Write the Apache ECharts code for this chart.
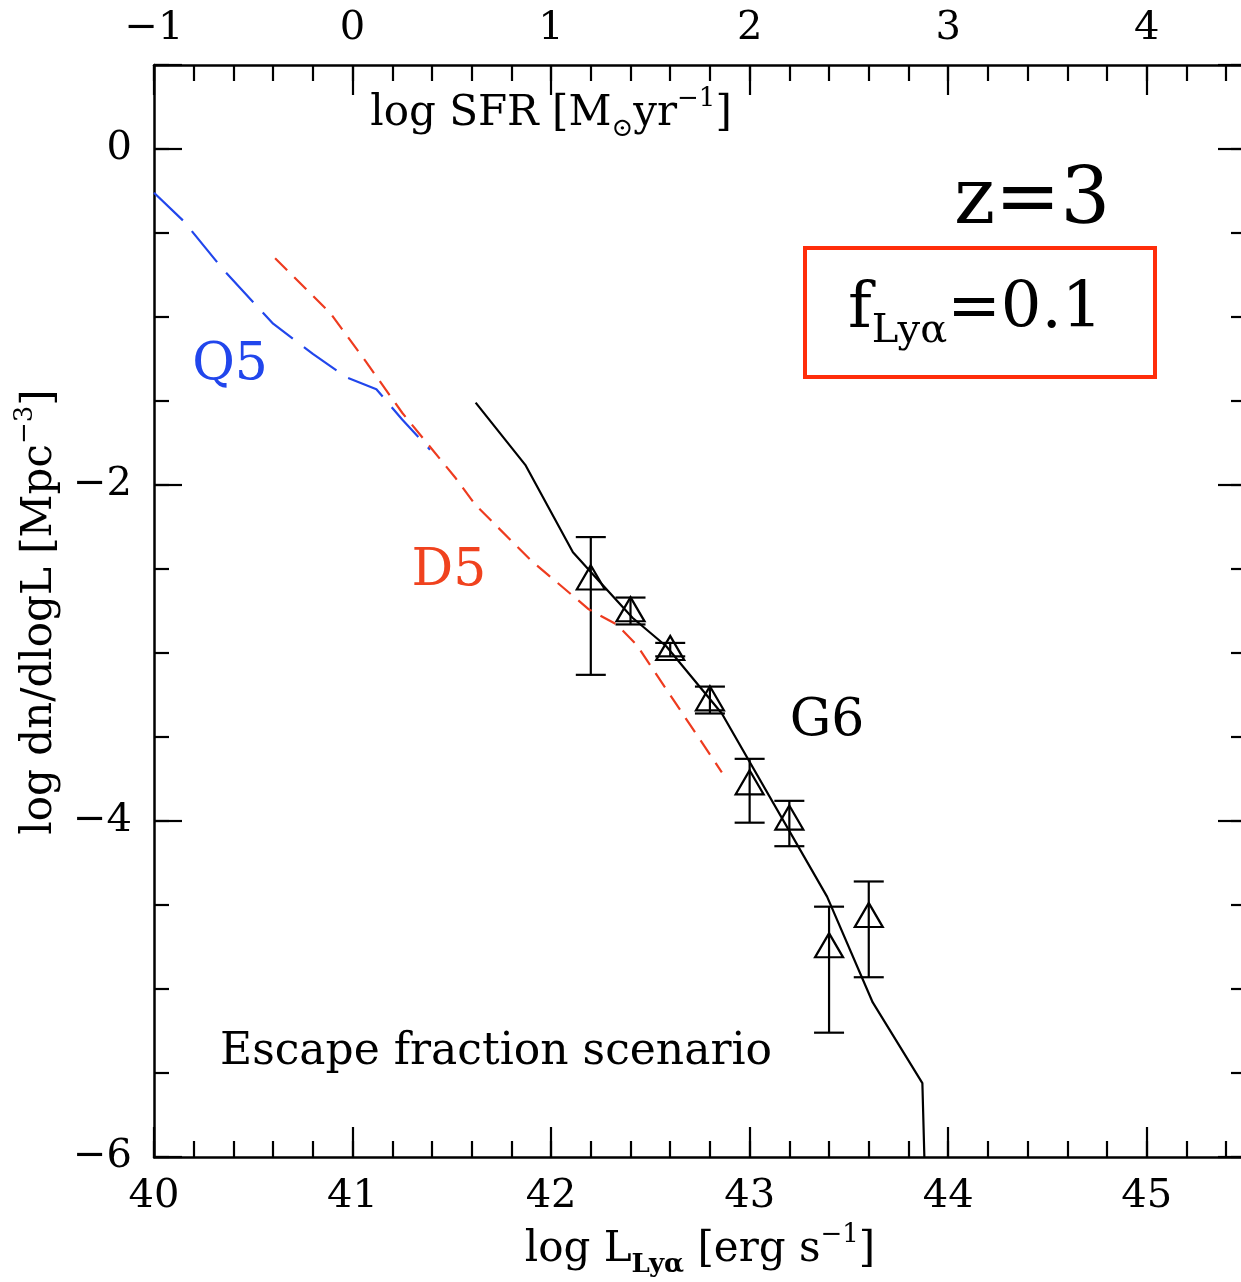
<!DOCTYPE html>
<html><head><meta charset="utf-8">
<script src="https://cdn.jsdelivr.net/npm/echarts@6/dist/echarts.min.js"></script>
<style>html,body{margin:0;padding:0;background:#fff}#c{width:1241px;height:1282px}</style>
</head><body><div id="c"></div>
<script>
// ---- data ----
const q5X = [40.0, 40.15, 40.35, 40.6, 40.8, 40.97, 41.12, 41.25, 41.39];
const q5Y = [-0.26, -0.43, -0.72, -1.04, -1.22, -1.36, -1.43, -1.61, -1.79];

const d5X = [40.61, 40.89, 41.07, 41.25, 41.52, 41.62, 41.90, 42.19, 42.33, 42.43, 42.86];
const d5Y = [-0.65, -0.98, -1.27, -1.57, -1.96, -2.12, -2.45, -2.74, -2.83, -2.95, -3.71];

const g6X = [41.62, 41.87, 42.11, 42.24, 42.41, 42.58, 42.86, 43.39, 43.62, 43.87, 43.88];
const g6Y = [-1.51, -1.88, -2.40, -2.57, -2.79, -2.96, -3.36, -4.45, -5.08, -5.56, -6.0];

const obsX  = [42.2, 42.4, 42.6, 42.8, 43.0, 43.2, 43.4, 43.6];
const obsY  = [-2.55, -2.74, -2.97, -3.27, -3.77, -3.98, -4.74, -4.56];
const obsHi = [-2.31, -2.67, -2.94, -3.20, -3.63, -3.88, -4.51, -4.36];
const obsLo = [-3.13, -2.83, -3.02, -3.36, -4.01, -4.15, -5.26, -4.93];

const lumTicks = [40, 41, 42, 43, 44, 45];
const sfrTicks = [-1, 0, 1, 2, 3, 4];
const yTicks = [-6, -4, -2, 0];

// ---- styles ----
const FONT = 'DejaVu Serif';
const BLUE = '#2146ec';
const RED = '#ee3b1f';
const BOX = '#ff2d0a';
const fmtNum = v => (v < 0 ? '\u2212' + Math.abs(v) : String(v));

function mkAxis(pos, min, max, interval, len, labels, ticksList, margin, showLine) {
  return {
    type: 'value', position: pos, min: min, max: max, interval: interval,
    axisLine: { show: showLine, onZero: false, lineStyle: { color: '#000', width: 2.5 } },
    axisTick: { show: true, inside: true, length: len, lineStyle: { color: '#000', width: 2.2 } },
    axisLabel: {
      show: labels, margin: margin, fontSize: 40, fontFamily: FONT, color: '#000',
      formatter: v => (ticksList && ticksList.some(t => Math.abs(t - v) < 1e-6)) ? fmtNum(Math.round(v)) : ''
    },
    splitLine: { show: false }, minorTick: { show: false }
  };
}

const chart = echarts.init(document.getElementById('c'), null, { renderer: 'canvas' });
const option = {
  animation: false,
  backgroundColor: '#fff',
  grid: { left: 154, top: 65, right: -5, bottom: 125, containLabel: false, outerBoundsMode: 'none' },
  xAxis: [
    mkAxis('bottom', 40, 45.5, 1, 30, true, lumTicks, 20, true),
    mkAxis('bottom', 40, 45.5, 0.2, 16, false, null, 0, false),
    mkAxis('top', -1, 4.5, 1, 30, true, sfrTicks, 16, true),
    mkAxis('top', -1, 4.5, 0.2, 16, false, null, 0, false)
  ],
  yAxis: [
    mkAxis('left', -6, 0.5, 2, 28, true, yTicks, 22, true),
    mkAxis('left', -6, 0.5, 0.5, 15, false, null, 0, false),
    mkAxis('right', -6, 0.5, 2, 28, false, null, 0, true),
    mkAxis('right', -6, 0.5, 0.5, 15, false, null, 0, false)
  ],
  series: [
    { type: 'line', name: 'Q5', xAxisIndex: 0, yAxisIndex: 0, data: q5X.map((x, i) => [x, q5Y[i]]),
      showSymbol: false, symbol: 'none', lineStyle: { color: BLUE, width: 2.2, type: [40, 14] }, silent: true },
    { type: 'line', name: 'D5', xAxisIndex: 0, yAxisIndex: 0, data: d5X.map((x, i) => [x, d5Y[i]]),
      showSymbol: false, symbol: 'none', lineStyle: { color: RED, width: 2.2, type: [17, 10] }, silent: true },
    { type: 'line', name: 'G6', xAxisIndex: 0, yAxisIndex: 0, data: g6X.map((x, i) => [x, g6Y[i]]),
      showSymbol: false, symbol: 'none', lineStyle: { color: '#000', width: 2.2 }, silent: true },
    { type: 'custom', name: 'err', xAxisIndex: 0, yAxisIndex: 0, silent: true,
      data: obsX.map((x, i) => [x, obsLo[i], obsHi[i]]),
      encode: { x: 0, y: [1, 2] },
      renderItem: function (params, api) {
        const x = api.value(0);
        const lo = api.coord([x, api.value(1)]);
        const hi = api.coord([x, api.value(2)]);
        const w = 15;
        const st = { stroke: '#000', lineWidth: 2.2 };
        return { type: 'group', children: [
          { type: 'line', shape: { x1: lo[0], y1: lo[1], x2: hi[0], y2: hi[1] }, style: st },
          { type: 'line', shape: { x1: lo[0] - w, y1: lo[1], x2: lo[0] + w, y2: lo[1] }, style: st },
          { type: 'line', shape: { x1: hi[0] - w, y1: hi[1], x2: hi[0] + w, y2: hi[1] }, style: st }
        ] };
      }
    },
    { type: 'scatter', name: 'obs', xAxisIndex: 0, yAxisIndex: 0, silent: true,
      data: obsX.map((x, i) => [x, obsY[i]]),
      symbol: 'triangle', symbolSize: [28, 24],
      itemStyle: { color: 'rgba(0,0,0,0)', borderColor: '#000', borderWidth: 2.2, opacity: 1 } }
  ],
  graphic: [
    { type: 'text', x: 230, y: 365, z: 100, style: { text: 'Q5', fill: BLUE, fontSize: 52, fontFamily: FONT, align: 'center', verticalAlign: 'middle' } },
    { type: 'text', x: 449, y: 571, z: 100, style: { text: 'D5', fill: '#f0421e', fontSize: 52, fontFamily: FONT, align: 'center', verticalAlign: 'middle' } },
    { type: 'text', x: 827, y: 721, z: 100, style: { text: 'G6', fill: '#000', fontSize: 52, fontFamily: FONT, align: 'center', verticalAlign: 'middle' } },
    { type: 'text', x: 1032, y: 203, z: 100, style: { text: 'z=3', fill: '#000', fontSize: 78, fontFamily: FONT, align: 'center', verticalAlign: 'middle' } },
    { type: 'rect', z: 100, shape: { x: 805, y: 248, width: 350, height: 129 }, style: { fill: 'none', stroke: BOX, lineWidth: 4 } },
    { type: 'text', x: 848, y: 310, z: 100, style: {
        text: '{m|f}{s|Ly\u03B1}{m|=0.1}', align: 'left', verticalAlign: 'middle',
        rich: {
          m: { fontSize: 64, fontFamily: FONT, fill: '#000', lineHeight: 84 },
          s: { fontSize: 40, fontFamily: FONT, fill: '#000', lineHeight: 26, verticalAlign: 'bottom' }
        } } },
    { type: 'text', x: 496, y: 1053, z: 100, style: { text: 'Escape fraction scenario', fill: '#000', fontSize: 44, fontFamily: FONT, align: 'center', verticalAlign: 'middle' } },
    { type: 'text', x: 551, y: 114, z: 100, style: {
        text: '{n|log SFR [M}{s|\u2299}{n|yr}{p|\u22121}{n|]}', align: 'center', verticalAlign: 'middle',
        rich: {
          n: { fontSize: 42, fontFamily: FONT, fill: '#000', lineHeight: 56 },
          s: { fontSize: 26, fontFamily: FONT, fill: '#000', lineHeight: 30, verticalAlign: 'bottom' },
          p: { fontSize: 26, fontFamily: FONT, fill: '#000', lineHeight: 40, verticalAlign: 'top' }
        } } },
    { type: 'text', x: 700, y: 1250, z: 100, style: {
        text: '{n|log L}{s|Ly\u03B1}{n| [erg s}{p|\u22121}{n|]}', align: 'center', verticalAlign: 'middle',
        rich: {
          n: { fontSize: 42, fontFamily: FONT, fill: '#000', lineHeight: 56 },
          s: { fontSize: 26, fontFamily: FONT, fontWeight: 'bold', fill: '#000', lineHeight: 20, verticalAlign: 'bottom' },
          p: { fontSize: 26, fontFamily: FONT, fill: '#000', lineHeight: 40, verticalAlign: 'top' }
        } } },
    { type: 'text', x: 40, y: 612, z: 100, rotation: Math.PI / 2, style: {
        text: '{n|log dn/dlogL [Mpc}{p|\u22123}{n|]}', align: 'center', verticalAlign: 'middle',
        rich: {
          n: { fontSize: 42, fontFamily: FONT, fill: '#000', lineHeight: 56 },
          p: { fontSize: 26, fontFamily: FONT, fill: '#000', lineHeight: 40, verticalAlign: 'top' }
        } } }
  ]
};
chart.setOption(option);
</script>
</body></html>
